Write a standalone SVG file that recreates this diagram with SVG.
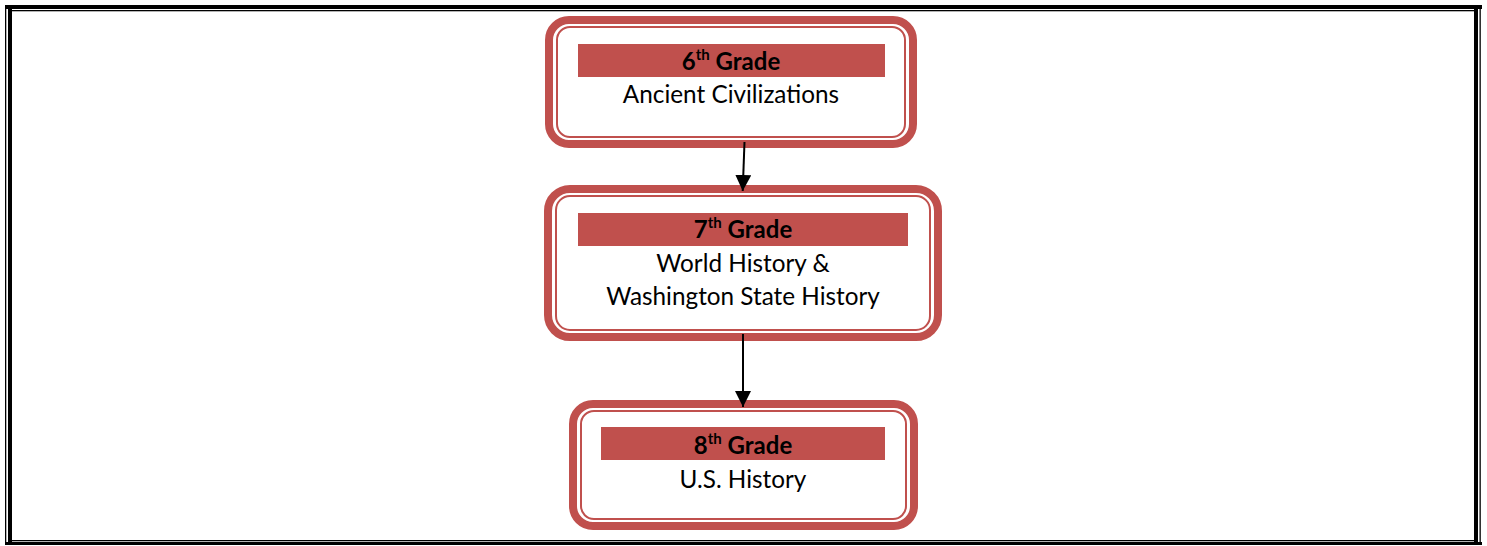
<svg xmlns="http://www.w3.org/2000/svg" width="1487" height="546" viewBox="0 0 1487 546">
<defs>
<style>
.outer{fill:none;stroke:#C0504D;stroke-width:8}
.inner{fill:#fff;stroke:#C0504D;stroke-width:2}
.bar{fill:#C0504D}
.hd{font-family:Lato,"Open Sans",sans-serif;font-weight:bold;font-size:24px;fill:#000;text-anchor:middle}
.sup{font-size:15px}
.tx{font-family:Lato,"Open Sans",sans-serif;font-size:24.3px;fill:#000;text-anchor:middle}
.conn{stroke:#000;stroke-width:2;fill:none}
.frame{fill:#000}
</style>
<marker id="arr" viewBox="0 0 16 16" refX="16" refY="8" markerWidth="16" markerHeight="16" markerUnits="userSpaceOnUse" orient="auto">
<path d="M0,0 L16,8 L0,16 Z" fill="#000"/>
</marker>
</defs>
<rect width="1487" height="546" fill="#fff"/>
<g id="frame">
<rect class="frame" x="5" y="5" width="1477" height="4"/>
<rect class="frame" x="12" y="10" width="1462" height="1.3"/>
<rect class="frame" x="5" y="5" width="1.3" height="540"/>
<rect class="frame" x="8" y="9" width="4" height="533"/>
<rect class="frame" x="1474" y="9" width="4" height="533"/>
<rect class="frame" x="1479.5" y="5" width="1.3" height="540"/>
<rect class="frame" x="12" y="540" width="1462" height="1.3"/>
<rect class="frame" x="5" y="542" width="1477" height="3"/>
</g>
<g id="node1">
<rect class="outer" x="549" y="20" width="364" height="124" rx="20"/>
<rect class="inner" x="557" y="27" width="348" height="110" rx="13"/>
<rect class="bar" x="578" y="44" width="307" height="33"/>
<text class="hd" x="731" y="70">6<tspan class="sup" dy="-10">th</tspan><tspan dy="10"> Grade</tspan></text>
<text class="tx" x="731" y="103">Ancient Civilizations</text>
</g>
<g id="node2">
<rect class="outer" x="548" y="189" width="390" height="148" rx="22"/>
<rect class="inner" x="556" y="196" width="374" height="134" rx="14"/>
<rect class="bar" x="578" y="213" width="330" height="33"/>
<text class="hd" x="743" y="238">7<tspan class="sup" dy="-10">th</tspan><tspan dy="10"> Grade</tspan></text>
<text class="tx" x="743" y="272">World History &amp;</text>
<text class="tx" x="743" y="305">Washington State History</text>
</g>
<g id="node3">
<rect class="outer" x="573" y="404" width="341" height="122" rx="20"/>
<rect class="inner" x="581" y="411" width="325" height="108" rx="13"/>
<rect class="bar" x="601" y="427" width="284" height="33"/>
<text class="hd" x="743" y="454">8<tspan class="sup" dy="-10">th</tspan><tspan dy="10"> Grade</tspan></text>
<text class="tx" x="743" y="488">U.S. History</text>
</g>
<g id="connectors">
<path class="conn" d="M744.5,142 L742.7,191" marker-end="url(#arr)"/>
<path class="conn" d="M743,334 L743,407" marker-end="url(#arr)"/>
</g>
</svg>
